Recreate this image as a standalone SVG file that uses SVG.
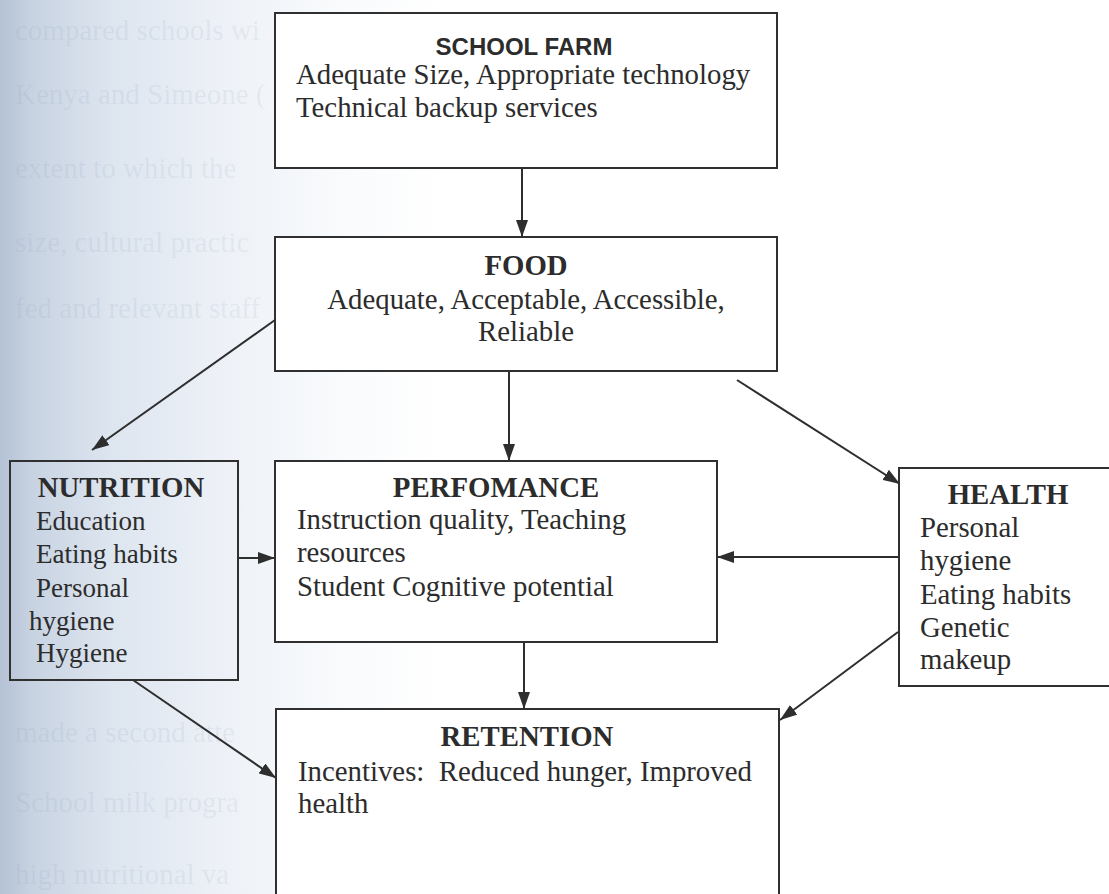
<svg xmlns="http://www.w3.org/2000/svg" width="1109" height="894" viewBox="0 0 1109 894">
  <defs>
    <linearGradient id="scan" x1="0" y1="0" x2="1" y2="0">
      <stop offset="0" stop-color="#b5c2d5"/>
      <stop offset="0.03" stop-color="#c8d3e2"/>
      <stop offset="0.1" stop-color="#dde5ef"/>
      <stop offset="0.2" stop-color="#edf1f7"/>
      <stop offset="0.3" stop-color="#f8fafc"/>
      <stop offset="0.4" stop-color="#ffffff"/>
      <stop offset="1" stop-color="#ffffff"/>
    </linearGradient>
    <marker id="arrow" markerUnits="userSpaceOnUse" markerWidth="17" markerHeight="12" refX="17" refY="6" orient="auto">
      <path d="M0,0 L17,6 L0,12 z" fill="#2e2e2e"/>
    </marker>
    <style>
      .box { fill: #ffffff; stroke: #303030; stroke-width: 2; }
      .boxclear { fill: none; stroke: #303030; stroke-width: 2; }
      .t { font-family: "Liberation Serif", "Times New Roman", serif; font-size: 28.8px; fill: #2c2c2c; }
      .tn { font-family: "Liberation Serif", "Times New Roman", serif; font-size: 27px; fill: #2c2c2c; }
      .h { font-family: "Liberation Serif", "Times New Roman", serif; font-size: 28.8px; font-weight: bold; fill: #2c2c2c; text-anchor: middle; }
      .hs { font-family: "Liberation Sans", Arial, sans-serif; font-size: 24px; font-weight: bold; fill: #2c2c2c; text-anchor: middle; }
      .bg { font-family: "Liberation Serif", "Times New Roman", serif; font-size: 29px; fill: #7f94b2; fill-opacity: 0.12; }
      .conn line { stroke: #2e2e2e; stroke-width: 2; marker-end: url(#arrow); }
    </style>
  </defs>

  <rect x="0" y="0" width="1109" height="894" fill="url(#scan)"/>

  <g id="background-text" class="bg">
    <text x="15" y="40">compared schools wi</text>
    <text x="15" y="104">Kenya and Simeone (</text>
    <text x="15" y="178">extent to which the</text>
    <text x="15" y="252">size, cultural practic</text>
    <text x="15" y="318">fed and relevant staff</text>
    <text x="15" y="742">made a second atte</text>
    <text x="15" y="812">School milk progra</text>
    <text x="15" y="884">high nutritional va</text>
  </g>

  <g id="connectors" class="conn">
    <line x1="522" y1="168" x2="522" y2="237"/>
    <line x1="509" y1="371" x2="509" y2="461"/>
    <line x1="275" y1="320" x2="92" y2="450"/>
    <line x1="737" y1="380" x2="900" y2="484"/>
    <line x1="905" y1="557" x2="717" y2="557"/>
    <line x1="238" y1="558" x2="275" y2="558"/>
    <line x1="524" y1="642" x2="524" y2="709"/>
    <line x1="133" y1="680" x2="276" y2="778"/>
    <line x1="898" y1="632" x2="780" y2="720"/>
  </g>

  <g id="school-farm">
    <rect class="box" x="275" y="13" width="502" height="155"/>
    <text class="hs" x="524" y="55">SCHOOL FARM</text>
    <text class="t" x="296" y="84">Adequate Size, Appropriate technology</text>
    <text class="t" x="296" y="117">Technical backup services</text>
  </g>

  <g id="food">
    <rect class="box" x="275" y="237" width="502" height="134"/>
    <text class="h" x="526" y="275">FOOD</text>
    <text class="t" x="526" y="309" text-anchor="middle">Adequate, Acceptable, Accessible,</text>
    <text class="t" x="526" y="341" text-anchor="middle">Reliable</text>
  </g>

  <g id="nutrition">
    <rect class="boxclear" x="10" y="461" width="228" height="219"/>
    <text class="h" x="121" y="497" font-size="27.5">NUTRITION</text>
    <text class="tn" x="36" y="530">Education</text>
    <text class="tn" x="36" y="563">Eating habits</text>
    <text class="tn" x="36" y="597">Personal</text>
    <text class="tn" x="29" y="630">hygiene</text>
    <text class="tn" x="36" y="662">Hygiene</text>
  </g>

  <g id="performance">
    <rect class="box" x="275" y="461" width="442" height="181"/>
    <text class="h" x="496" y="497">PERFOMANCE</text>
    <text class="t" x="297" y="529">Instruction quality, Teaching</text>
    <text class="t" x="297" y="562">resources</text>
    <text class="t" x="297" y="596">Student Cognitive potential</text>
  </g>

  <g id="health">
    <rect class="box" x="899" y="468" width="230" height="218"/>
    <text class="h" x="1008" y="504">HEALTH</text>
    <text class="t" x="920" y="537">Personal</text>
    <text class="t" x="920" y="570">hygiene</text>
    <text class="t" x="920" y="604">Eating habits</text>
    <text class="t" x="920" y="637">Genetic</text>
    <text class="t" x="920" y="669">makeup</text>
  </g>

  <g id="retention">
    <rect class="box" x="276" y="709" width="503" height="200"/>
    <text class="h" x="527" y="746">RETENTION</text>
    <text class="t" x="298" y="781" xml:space="preserve">Incentives:  Reduced hunger, Improved</text>
    <text class="t" x="298" y="813">health</text>
  </g>
</svg>
